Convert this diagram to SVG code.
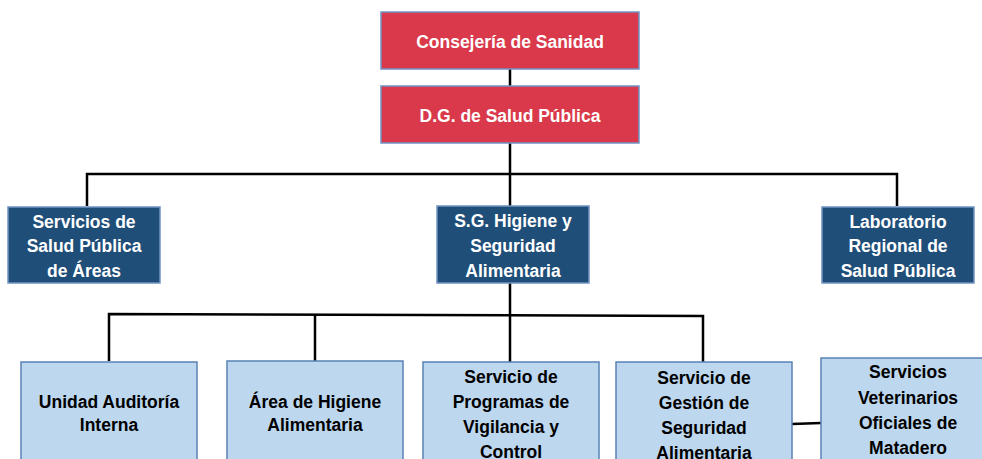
<svg xmlns="http://www.w3.org/2000/svg" width="982" height="459" viewBox="0 0 982 459">
<style>
.red{fill:#D9394A;stroke:#7094C4;stroke-width:1.5}
.dark{fill:#1F4E79;stroke:#7094C4;stroke-width:1.5}
.light{fill:#BDD7EE;stroke:#5A82B4;stroke-width:1.5}
.tw{font-family:"Liberation Sans",Arial,sans-serif;font-weight:bold;font-size:17.5px;fill:#fff;text-anchor:middle}
.tb{font-family:"Liberation Sans",Arial,sans-serif;font-weight:bold;font-size:17.5px;fill:#000;text-anchor:middle}
.c{fill:none;stroke:#000;stroke-width:2.5}
</style>
<rect width="982" height="459" fill="#fff"/>
<g id="connectors">
<path class="c" d="M510 69V86"/>
<path class="c" d="M510 143V206"/>
<path class="c" d="M87 206V174H897V206"/>
<path class="c" d="M510 283V362"/>
<path class="c" d="M109 361V314L703 316V362"/>
<path class="c" d="M315 315V361"/>
<path class="c" d="M792 424L821 423"/>
</g>
<g id="consejeria">
<rect class="red" x="381" y="12" width="258" height="57"/>
<text class="tw" x="510" y="48">Consejería de Sanidad</text>
</g>
<g id="dg">
<rect class="red" x="381" y="86" width="258" height="57"/>
<text class="tw" x="510" y="122">D.G. de Salud Pública</text>
</g>
<g id="servicios-areas">
<rect class="dark" x="8" y="207" width="152" height="76"/>
<text class="tw" x="84" y="228">Servicios de</text>
<text class="tw" x="84" y="252">Salud Pública</text>
<text class="tw" x="84" y="277">de Áreas</text>
</g>
<g id="sg-higiene">
<rect class="dark" x="437" y="206" width="152" height="77"/>
<text class="tw" x="513" y="227">S.G. Higiene y</text>
<text class="tw" x="513" y="252">Seguridad</text>
<text class="tw" x="513" y="277">Alimentaria</text>
</g>
<g id="laboratorio">
<rect class="dark" x="822" y="207" width="152" height="76"/>
<text class="tw" x="898" y="228">Laboratorio</text>
<text class="tw" x="898" y="252">Regional de</text>
<text class="tw" x="898" y="277">Salud Pública</text>
</g>
<g id="unidad-auditoria">
<rect class="light" x="21" y="362" width="176" height="110"/>
<text class="tb" x="109" y="408">Unidad Auditoría</text>
<text class="tb" x="109" y="431">Interna</text>
</g>
<g id="area-higiene">
<rect class="light" x="227" y="361" width="176" height="111"/>
<text class="tb" x="315" y="408">Área de Higiene</text>
<text class="tb" x="315" y="431">Alimentaria</text>
</g>
<g id="servicio-programas">
<rect class="light" x="423" y="362" width="176" height="110"/>
<text class="tb" x="511" y="383">Servicio de</text>
<text class="tb" x="511" y="408">Programas de</text>
<text class="tb" x="511" y="433">Vigilancia y</text>
<text class="tb" x="511" y="458">Control</text>
</g>
<g id="servicio-gestion">
<rect class="light" x="616" y="362" width="176" height="110"/>
<text class="tb" x="704" y="384">Servicio de</text>
<text class="tb" x="704" y="409">Gestión de</text>
<text class="tb" x="704" y="434">Seguridad</text>
<text class="tb" x="704" y="459">Alimentaria</text>
</g>
<g id="servicios-veterinarios">
<rect class="light" x="821" y="358" width="175" height="114"/>
<text class="tb" x="908" y="378">Servicios</text>
<text class="tb" x="908" y="404">Veterinarios</text>
<text class="tb" x="908" y="429">Oficiales de</text>
<text class="tb" x="908" y="454">Matadero</text>
</g>
</svg>
